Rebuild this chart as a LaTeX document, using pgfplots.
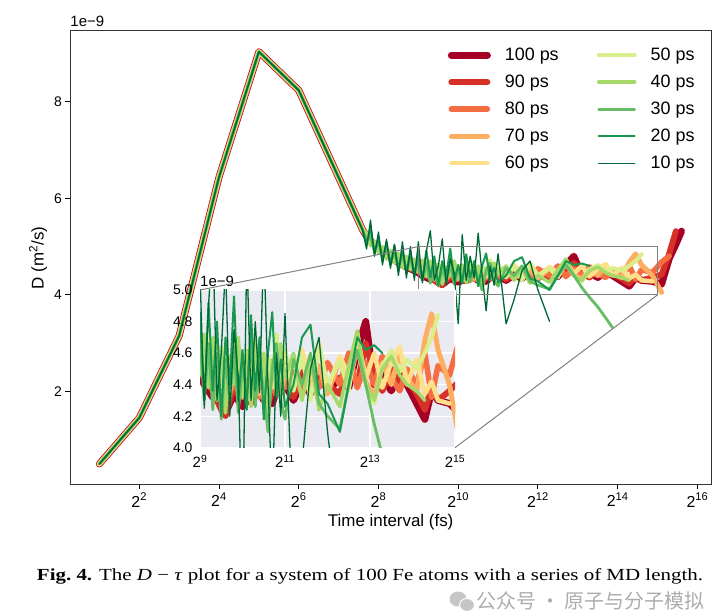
\documentclass[border=0pt]{standalone}
\usepackage{fontspec}
\setmainfont{Liberation Sans}
\newfontfamily\capfont{Liberation Serif}
\newfontfamily\cjkfont{Noto Sans CJK SC}
\usepackage{graphicx}
\usepackage{pgfplots}
\usepackage{pgfplotstable}
\pgfplotsset{compat=1.18}

\definecolor{c100}{HTML}{A50026}
\definecolor{c90}{HTML}{D73027}
\definecolor{c80}{HTML}{F46D43}
\definecolor{c70}{HTML}{FDAE61}
\definecolor{c60}{HTML}{FEE08B}
\definecolor{c50}{HTML}{D9EF8B}
\definecolor{c40}{HTML}{A6D96A}
\definecolor{c30}{HTML}{66BD63}
\definecolor{c20}{HTML}{1A9850}
\definecolor{c10}{HTML}{006837}
\definecolor{insetbg}{HTML}{EAEAF2}

\pgfplotsset{
  s100/.style={color=c100, line width=7bp, line join=round, line cap=round},
  s90/.style={color=c90, line width=6bp, line join=round, line cap=round},
  s80/.style={color=c80, line width=5.5bp, line join=round, line cap=round},
  s70/.style={color=c70, line width=5bp, line join=round, line cap=round},
  s60/.style={color=c60, line width=4.5bp, line join=round, line cap=round},
  s50/.style={color=c50, line width=4bp, line join=round, line cap=round},
  s40/.style={color=c40, line width=3.5bp, line join=round, line cap=round},
  s30/.style={color=c30, line width=2.8bp, line join=round, line cap=round},
  s20/.style={color=c20, line width=2bp, line join=round, line cap=round},
  s10/.style={color=c10, line width=1.3bp, line join=round, line cap=round},
}

% x = log2(time interval / fs); columns a..j = 100 ps ... 10 ps; D in 1e-9 m^2/s
\pgfplotstableread{
x     a     b     c     d     e     f     g     h     i     j
1     0.495 0.495 0.495 0.495 0.495 0.495 0.495 0.495 0.495 0.495
2     1.45  1.45  1.45  1.45  1.45  1.45  1.45  1.45  1.45  1.45
3     3.15  3.15  3.15  3.15  3.15  3.15  3.15  3.15  3.15  3.15
4     6.44  6.44  6.44  6.44  6.44  6.44  6.44  6.44  6.44  6.44
5     9.04  9.04  9.04  9.04  9.04  9.04  9.04  9.04  9.04  9.04
6     8.24  8.24  8.24  8.24  8.24  8.24  8.24  8.24  8.24  8.24
7.6   5.35  5.35  5.35  5.35  5.35  5.35  5.35  5.35  5.35  5.35
7.7   5.22  5.23  5.24  5.22  5.25  5.18  5.28  5.12  5.05  4.95
7.8   5.12  5.13  5.14  5.14  5.12  5.16  5.02  5.22  5.40  5.55
7.9   5.04  5.05  5.06  5.04  5.08  4.96  5.10  4.90  4.85  4.80
8.0   4.96  4.97  4.98  4.98  4.96  5.04  4.86  5.10  5.20  5.30
8.1   4.90  4.91  4.92  4.90  4.94  4.82  5.00  4.76  4.70  4.62
8.2   4.84  4.85  4.86  4.86  4.84  4.94  4.74  4.98  5.10  5.15
8.3   4.78  4.80  4.81  4.79  4.83  4.72  4.92  4.66  4.62  4.55
8.4   4.72  4.74  4.76  4.76  4.74  4.88  4.66  4.90  5.02  5.05
8.5   4.68  4.70  4.71  4.70  4.74  4.64  4.86  4.56  4.50  4.40
8.6   4.62  4.64  4.66  4.67  4.66  4.80  4.56  4.84  4.96  5.10
8.7   4.58  4.60  4.62  4.62  4.67  4.58  4.80  4.50  4.44  4.35
8.8   4.54  4.56  4.58  4.60  4.60  4.76  4.52  4.78  4.90  5.00
8.9   4.50  4.52  4.54  4.55  4.61  4.52  4.74  4.44  4.40  4.30
9.0   4.46  4.48  4.50  4.52  4.54  4.72  4.46  4.70  4.86  5.10
9.1   4.40  4.44  4.46  4.48  4.56  4.46  4.72  4.30  4.30  4.25
9.2   4.36  4.40  4.42  4.50  4.48  4.68  4.38  4.66  4.92  4.90
9.3   4.32  4.36  4.38  4.42  4.52  4.40  4.70  4.24  4.36  5.33
9.4   4.34  4.30  4.42  4.46  4.44  4.66  4.30  4.60  4.80  4.30
9.5   4.26  4.24  4.36  4.38  4.50  4.34  4.64  4.18  4.20  4.60
9.6   4.22  4.20  4.30  4.44  4.40  4.62  4.22  4.56  4.70  5.16
9.7   4.28  4.30  4.34  4.36  4.52  4.42  4.58  4.30  4.40  4.20
9.8   4.34  4.38  4.42  4.48  4.42  4.70  4.40  4.64  4.96  4.75
9.9   4.30  4.34  4.36  4.40  4.50  4.36  4.70  4.22  4.30  4.45
10.0  4.26  4.40  4.32  4.46  4.40  4.60  4.32  4.52  4.62  3.40
10.1  4.30  4.32  4.40  4.36  4.54  4.30  4.62  4.36  4.24  5.25
10.2  4.38  4.28  4.46  4.50  4.44  4.66  4.26  4.70  4.84  4.30
10.3  4.46  4.36  4.38  4.40  4.50  4.44  4.68  4.26  4.36  4.80
10.4  4.36  4.42  4.32  4.34  4.60  4.62  4.40  4.58  4.70  4.35
10.5  4.30  4.34  4.40  4.46  4.42  4.28  4.60  4.34  4.18  5.28
10.6  4.34  4.28  4.48  4.38  4.52  4.58  4.20  4.10  4.60  4.40
10.7  4.28  4.36  4.38  4.52  4.38  4.46  4.56  4.50  4.86  3.67
10.8  4.36  4.44  4.34  4.42  4.56  4.72  4.36  4.66  4.32  4.60
10.9  4.58  4.36  4.44  4.34  4.44  4.40  4.66  4.30  4.56  4.20
11.0  4.40  4.46  4.38  4.48  4.52  4.62  4.44  4.18  4.26  4.85
11.2  4.30  4.32  4.48  4.40  4.40  4.36  4.60  4.56  4.40  3.40
11.4  4.42  4.48  4.34  4.58  4.62  4.58  4.30  4.40  4.70  3.90
11.6  4.34  4.36  4.50  4.36  4.44  4.30  4.56  4.60  4.78  4.50
11.8  4.50  4.44  4.38  4.52  4.66  4.64  4.24  4.28  4.34  4.70
12.0  4.36  4.40  4.54  4.34  4.38  4.40  4.40  4.20  4.28  4.10
12.29 4.44  4.34  4.40  4.56  4.58  4.55  4.26  4.12  4.10  3.45
12.5  4.38  4.52  4.60  4.40  4.46  4.36  4.52  4.40  4.40  nan
12.7  4.62  4.40  4.38  4.64  4.70  4.74  4.74  4.62  4.70  nan
12.9  4.80  4.66  4.54  4.42  4.44  4.40  4.40  4.40  4.62  nan
13.1  4.40  4.46  4.40  4.32  4.60  4.28  4.30  4.15  4.65  nan
13.29 4.46  4.36  4.58  4.54  4.38  4.52  4.50  3.95  4.60  nan
13.5  4.36  4.50  4.44  4.40  4.54  4.62  4.58  3.75  nan   nan
13.7  4.48  4.40  4.36  4.60  4.64  4.48  4.46  3.52  nan   nan
13.87 4.40  4.44  4.50  4.44  4.40  4.56  4.40  3.32  nan   nan
14.1  4.28  4.34  4.40  4.36  4.56  4.50  4.36  nan   nan   nan
14.29 4.18  4.24  4.60  4.68  4.34  4.60  4.30  nan   nan   nan
14.45 4.36  4.38  4.32  4.85  4.42  4.70  nan   nan   nan   nan
14.6  4.30  4.30  4.52  4.62  4.30  4.84  nan   nan   nan   nan
14.87 4.28  4.36  4.46  4.40  4.28  nan   nan   nan   nan   nan
15.1  4.22  4.42  4.68  4.05  nan   nan   nan   nan   nan   nan
15.29 4.75  4.85  4.80  nan   nan   nan   nan   nan   nan   nan
15.46 5.05  5.32  nan   nan   nan   nan   nan   nan   nan   nan
15.6  5.32  nan   nan   nan   nan   nan   nan   nan   nan   nan
}\datatable

\begin{document}
\begin{tikzpicture}
\begin{axis}[
  name=main,
  at={(70.3bp,131.5bp)}, anchor=south west,
  scale only axis, width=640.7bp, height=453.5bp,
  xmin=0.27, xmax=16.34, ymin=0.068, ymax=9.47,
  xtick={2,4,6,8,10,12,14,16},
  xticklabels={2\textsuperscript{2},2\textsuperscript{4},2\textsuperscript{6},2\textsuperscript{8},2\textsuperscript{10},2\textsuperscript{12},2\textsuperscript{14},2\textsuperscript{16}},
  ytick={2,4,6,8}, yticklabels={2,4,6,8},
  tick pos=left, tick align=outside, major tick length=5bp,
  tick style={black, line width=1bp},
  axis line style={black!80, line width=1bp},
  xticklabel style={font=\fontsize{16}{16}\selectfont},
  yticklabel style={font=\fontsize{14}{14}\selectfont},
  xlabel={Time interval (fs)},
  ylabel={D (m\textsuperscript{2}/s)},
  label style={font=\fontsize{17}{17}\selectfont},
  clip mode=individual,
  legend columns=5, transpose legend,
  legend cell align=left,
  legend image code/.code={\draw[#1] (0bp,0bp) -- (36bp,0bp);},
  legend style={draw=none, fill=none, at={(0.589,0.967)}, anchor=north west,
    inner sep=0pt,
    font=\fontsize{18}{18}\selectfont, row sep=9bp,
    /tikz/every odd column/.append style={column sep=12bp},
    /tikz/every even column/.append style={column sep=36bp}},
]
\addplot[s100] table[x=x,y=a]{\datatable}; \addlegendentry{100 ps}
\addplot[s90]  table[x=x,y=b]{\datatable}; \addlegendentry{90 ps}
\addplot[s80]  table[x=x,y=c]{\datatable}; \addlegendentry{80 ps}
\addplot[s70]  table[x=x,y=d]{\datatable}; \addlegendentry{70 ps}
\addplot[s60]  table[x=x,y=e]{\datatable}; \addlegendentry{60 ps}
\addplot[s50]  table[x=x,y=f]{\datatable}; \addlegendentry{50 ps}
\addplot[s40]  table[x=x,y=g]{\datatable}; \addlegendentry{40 ps}
\addplot[s30]  table[x=x,y=h]{\datatable}; \addlegendentry{30 ps}
\addplot[s20]  table[x=x,y=i]{\datatable}; \addlegendentry{20 ps}
\addplot[s10]  table[x=x,y=j]{\datatable}; \addlegendentry{10 ps}
\draw[gray, line width=1bp] (axis cs:9,4) rectangle (axis cs:15,5);
\coordinate (rTL) at (axis cs:9,5);
\coordinate (rBR) at (axis cs:15,4);
\node[anchor=south west, inner sep=0pt, font=\fontsize{15}{15}\selectfont] at (rel axis cs:0,1) [yshift=4bp] {1e−9};
\end{axis}

\begin{axis}[
  name=inset,
  at={(200bp,168.3bp)}, anchor=south west,
  scale only axis, width=255bp, height=157.7bp,
  xmin=9, xmax=15, ymin=4, ymax=5,
  axis background/.style={fill=insetbg},
  axis line style={draw=none},
  grid=major, major grid style={white, line width=1.2bp},
  tick pos=left, major tick length=0pt,
  xtick={9,11,13,15},
  xticklabels={2\textsuperscript{9},2\textsuperscript{11},2\textsuperscript{13},2\textsuperscript{15}},
  ytick={4,4.2,4.4,4.6,4.8,5}, yticklabels={4.0,4.2,4.4,4.6,4.8,5.0},
  xticklabel style={font=\fontsize{15}{15}\selectfont, yshift=-4bp},
  yticklabel style={font=\fontsize{14}{14}\selectfont, xshift=-4bp},
  clip mode=individual,
]
\addplot[s100] table[x=x,y=a]{\datatable};
\addplot[s90]  table[x=x,y=b]{\datatable};
\addplot[s80]  table[x=x,y=c]{\datatable};
\addplot[s70]  table[x=x,y=d]{\datatable};
\addplot[s60]  table[x=x,y=e]{\datatable};
\addplot[s50]  table[x=x,y=f]{\datatable};
\addplot[s40]  table[x=x,y=g]{\datatable};
\addplot[s30]  table[x=x,y=h]{\datatable};
\addplot[s20]  table[x=x,y=i]{\datatable};
\addplot[s10]  table[x=x,y=j]{\datatable};
\coordinate (iTL) at (rel axis cs:0,1);
\coordinate (iBR) at (rel axis cs:1,0);
\node[anchor=south west, inner sep=0pt, font=\fontsize{15}{15}\selectfont] at (rel axis cs:0,1) [yshift=3bp] {1e−9};
\end{axis}

\draw[gray, line width=1bp] (rTL) -- (iTL);
\draw[gray, line width=1bp] (rBR) -- (iBR);

\node[anchor=center, inner sep=0pt] at (370bp,40bp)
  {\resizebox{666bp}{\height}{\capfont\fontsize{17}{17}\selectfont\textbf{Fig.~4.} The \textit{D} − \textit{τ} plot for a system of 100 Fe atoms with a series of MD length.}};

\fill[gray!45] (458bp,17bp) ellipse (8.5bp and 7.5bp);
\fill[gray!45, draw=white, line width=1bp] (467bp,11bp) ellipse (7.5bp and 6.5bp);
\node[anchor=west, inner sep=0pt, text=gray!65] at (476bp,15bp)
  {\cjkfont\fontsize{20}{20}\selectfont 公众号 · 原子与分子模拟};

\pgfresetboundingbox
\path[use as bounding box] (0bp,0bp) rectangle (724bp,616bp);
\end{tikzpicture}
\end{document}
